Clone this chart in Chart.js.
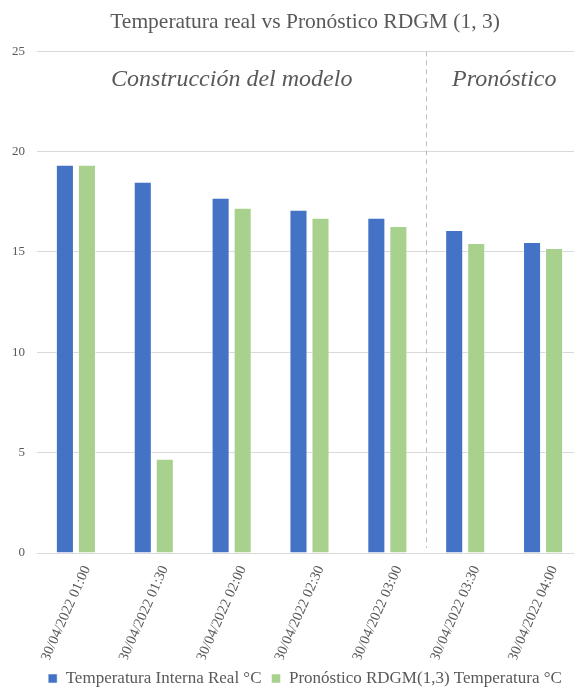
<!DOCTYPE html>
<html>
<head>
<meta charset="utf-8">
<script src="https://cdn.jsdelivr.net/npm/chart.js@4"></script>
<style>
  html, body { margin: 0; padding: 0; overflow: hidden; background: #fff; }
  canvas { display: block; }
</style>
</head>
<body>
<canvas id="barChart" width="610" height="697"></canvas>
<script>
const labels = [
  "30/04/2022 01:00",
  "30/04/2022 01:30",
  "30/04/2022 02:00",
  "30/04/2022 02:30",
  "30/04/2022 03:00",
  "30/04/2022 03:30",
  "30/04/2022 04:00",
];
const realTemp = [19.35, 18.5, 17.7, 17.1, 16.7, 16.1, 15.5];
const forecastTemp = [19.35, 4.7, 17.2, 16.7, 16.3, 15.45, 15.2];
const yTicks = [0, 5, 10, 15, 20, 25];
// last index of the model-building part, the rest is forecast
const lastModelIndex = 4;

const serif = "'Liberation Serif', 'Times New Roman', serif";
const textColor = "#595959";

// dashed separator and the two section captions
const sections = {
  id: "sections",
  afterDatasetsDraw(chart) {
    const { ctx, chartArea, scales } = chart;
    const x = scales.x;
    const y = scales.y;
    const sepX = Math.round((x.getPixelForValue(lastModelIndex) + x.getPixelForValue(lastModelIndex + 1)) / 2) + 0.5;

    ctx.save();
    ctx.strokeStyle = "#bfbfbf";
    ctx.lineWidth = 1;
    ctx.setLineDash([5, 4]);
    ctx.beginPath();
    ctx.moveTo(sepX, chartArea.top);
    ctx.lineTo(sepX, y.getPixelForValue(0.25));
    ctx.stroke();
    ctx.setLineDash([]);

    ctx.fillStyle = textColor;
    ctx.font = "italic 24px " + serif;
    ctx.textAlign = "center";
    ctx.textBaseline = "middle";
    const capY = y.getPixelForValue(23.6);
    ctx.fillText("Construcción del modelo", (chartArea.left + sepX) / 2, capY);
    ctx.fillText("Pronóstico", (sepX + chartArea.right) / 2, capY);
    ctx.restore();
  },
};

const ctx = document.getElementById("barChart").getContext("2d");
const myChart = new Chart(ctx, {
  type: "bar",
  data: {
    labels: labels,
    datasets: [
      {
        label: "Temperatura Interna Real °C",
        data: realTemp,
        backgroundColor: "#4472C4",
        borderColor: "rgba(255,255,255,0.5)",
        borderWidth: 1,
        categoryPercentage: 0.566,
        barPercentage: 0.82,
      },
      {
        label: "Pronóstico RDGM(1,3) Temperatura °C",
        data: forecastTemp,
        backgroundColor: "#A9D18E",
        borderColor: "rgba(255,255,255,0.5)",
        borderWidth: 1,
        categoryPercentage: 0.566,
        barPercentage: 0.82,
      },
    ],
  },
  options: {
    responsive: false,
    animation: false,
    layout: { padding: 0 },
    plugins: {
      title: {
        display: true,
        text: "Temperatura real vs Pronóstico RDGM (1, 3)",
        color: textColor,
        font: { family: serif, size: 21.5, weight: "normal" },
        padding: { top: 9, bottom: 16.5 },
      },
      legend: {
        position: "bottom",
        labels: {
          color: textColor,
          font: { family: serif, size: 17 },
          boxWidth: 9,
          boxHeight: 9,
          padding: 10,
        },
      },
      tooltip: { enabled: false },
    },
    scales: {
      x: {
        grid: { display: false },
        border: { display: false },
        ticks: {
          color: textColor,
          font: { family: serif, size: 14.5 },
          minRotation: 66,
          maxRotation: 66,
          autoSkip: false,
          labelOffset: 11,
          padding: 2,
        },
        afterFit(scale) {
          scale.height = 107;
        },
      },
      y: {
        min: 0,
        max: 25,
        afterBuildTicks(scale) {
          scale.ticks = yTicks.map((v) => ({ value: v }));
        },
        grid: { color: "#d9d9d9", drawTicks: false },
        border: { display: false },
        ticks: {
          color: textColor,
          font: { family: serif, size: 13 },
          padding: 12,
        },
        afterFit(scale) {
          scale.width = 37;
        },
      },
      // empty right axis, only keeps room on the right side
      yRight: {
        position: "right",
        grid: { display: false },
        border: { display: false },
        ticks: { display: false },
        afterFit(scale) {
          scale.width = 28;
        },
      },
    },
  },
  plugins: [sections],
});
</script>
</body>
</html>
